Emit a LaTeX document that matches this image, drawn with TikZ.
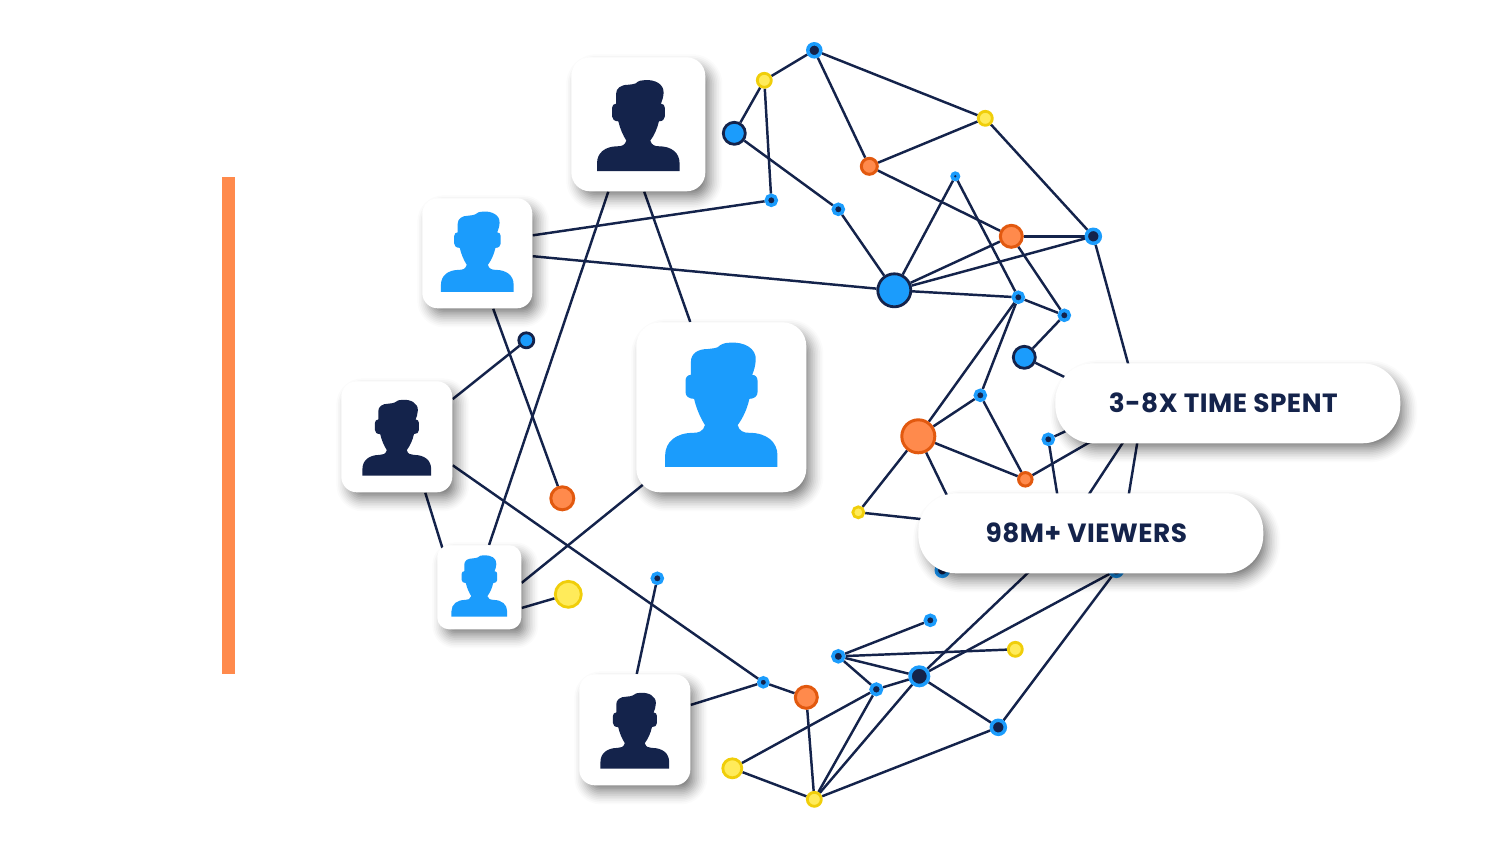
\documentclass[tikz,border=0pt]{standalone}
\usepackage{fontspec}
\setmainfont{Poppins}
\newfontfamily\pillfont{Poppins}[LetterSpace=2]
\usepackage{xcolor}
\usetikzlibrary{calc, positioning}
\definecolor{navy}{HTML}{14234B}
\definecolor{sky}{HTML}{1B9CFC}
\definecolor{tangerine}{HTML}{FF8A4C}
\definecolor{rust}{HTML}{E2590F}
\definecolor{lemon}{HTML}{FFEB5A}
\definecolor{gold}{HTML}{F0CE0A}
\pgfdeclarelayer{edges}
\pgfsetlayers{edges,main}

% soft shadow: cx, cy, w, h, radius
\newcommand{\softshadow}[5]{
  \foreach \i in {0,...,11}{
    \pgfmathsetmacro\grow{11-1.7*\i}
    \pgfmathsetmacro\rr{max(#5+\grow,2)*0.02}
    \pgfmathsetmacro\shade{0.016+0.006*\i}
    \fill[black, opacity=\shade, rounded corners=\rr cm]
      (#1+6-#3/2-\grow, #2+8-#4/2-\grow) rectangle (#1+6+#3/2+\grow, #2+8+#4/2+\grow);
  }
}
% person card: name, cx, cy, size, icon width, colour
\newcommand{\personcard}[6]{
  \pgfmathsetmacro\cardr{0.14*#4}
  \softshadow{#2}{#3}{#4}{#4}{\cardr}
  \node[card, minimum size=#4*0.02cm, rounded corners=\cardr*0.02cm] (#1) at (#2,#3) {};
  \pgfmathsetmacro\iconu{#5/249*0.02}
  \begin{scope}[shift={(#2,#3+0.35*#4)}, x=\iconu cm, y=\iconu cm]
    \fill[#6] (-124,0) -- (-124,25) .. controls (-124,55) and (-100,75) .. (-62,75)
      .. controls (-50,75) and (-40,78) .. (-36,92)
      .. controls (-46,108) and (-55,128) .. (-60,150)
      .. controls (-72,150) and (-79,156) .. (-79,165)
      -- (-79,190) .. controls (-79,198) and (-74,203) .. (-67,203)
      -- (-67,232) .. controls (-67,250) and (-52,260) .. (-30,260)
      .. controls (-20,261) and (-12,262) .. (-8,264)
      .. controls (0,272) and (10,274) .. (20,274)
      .. controls (50,276) and (78,262) .. (76,235)
      .. controls (75,222) and (72,212) .. (68,203)
      .. controls (75,203) and (80,198) .. (80,190)
      -- (80,165) .. controls (80,156) and (73,150) .. (62,150)
      .. controls (57,128) and (48,108) .. (36,92)
      .. controls (40,78) and (50,75) .. (62,75)
      .. controls (100,75) and (124,55) .. (124,25) -- (124,0) -- cycle;
  \end{scope}
}

\begin{document}
\begin{tikzpicture}[
    x=0.02cm, y=-0.02cm,
    card/.style={fill=white, inner sep=0pt},
    pill/.style={fill=white, inner sep=0pt, minimum width=6.9cm, minimum height=1.6cm,
                 rounded corners=0.76cm, text=navy, font=\pillfont\fontsize{15}{17}\selectfont\bfseries},
    ringdot/.style={circle, inner sep=0pt, fill=navy, draw=sky, line width=2pt},
    skydot/.style={circle, inner sep=0pt, fill=sky, draw=navy, line width=1.6pt},
    orangedot/.style={circle, inner sep=0pt, fill=tangerine, draw=rust, line width=1.7pt},
    yellowdot/.style={circle, inner sep=0pt, fill=lemon, draw=gold, line width=1.6pt},
    link/.style={draw=navy, line width=1.4pt}
  ]
    \useasboundingbox (-0.3,-0.3) rectangle (1499.7,849.7);
    \node[fill=tangerine, inner sep=0pt, minimum width=0.26cm, minimum height=9.94cm] (bar) at (228.2,425.2) {};

    % dots
    \foreach \nm/\px/\py/\sz in {a1/814/50/13, a6/771/200/10, a7/838/209/10, a8/955/176/6.3,
        a10/1093/236/14, a12/1018/297/10, a13/1064/315/10, a15/980/395/10, a17/1048/439/10,
        a23/657/578/10, a24/763/682/9, a28/838/656/11, a29/930/620/10, a31/876/689/10.5,
        a32/919/676/18.5, a33/998/727/14, a34/942/570/12, a35/1116/570/12}
      \node[ringdot, minimum size=\sz*0.02cm] (\nm) at (\px,\py) {};
    \foreach \nm/\px/\py/\sz in {a3/734/133/22, a11/894/290/33, a14/1024/357/22, a20/526/340/15}
      \node[skydot, minimum size=\sz*0.02cm] (\nm) at (\px,\py) {};
    \foreach \nm/\px/\py/\sz in {a5/869/166/16, a9/1011/236/22, a16/918/436/33, a18/1025/479/13.5,
        a21/562/498/23, a25/806/697/22}
      \node[orangedot, minimum size=\sz*0.02cm] (\nm) at (\px,\py) {};
    \foreach \nm/\px/\py/\sz in {a2/764/80/14, a4/985/118/14, a19/858/512/11, a22/568/594/26,
        a26/732/768/19, a27/814/799/14, a30/1015/649/14}
      \node[yellowdot, minimum size=\sz*0.02cm] (\nm) at (\px,\py) {};

    % cards
    \personcard{cardtop}{638}{124}{134}{83}{navy}
    \personcard{cardleft}{477}{253}{110}{73}{sky}
    \personcard{cardbig}{721}{407}{170}{113}{sky}
    \personcard{cardmid}{396.5}{436.5}{111}{69}{navy}
    \personcard{cardsmall}{479}{587}{84}{56}{sky}
    \personcard{cardlow}{634.5}{729.5}{111}{69}{navy}

    % pills
    \softshadow{1090.5}{533}{345}{80}{38}
    \node[pill] (viewers) at (1090.5,533) {98M+ VIEWERS\hspace{0.18cm}\mbox{}};
    \softshadow{1227.5}{403}{345}{80}{38}
    \node[pill] (spent) at (1227.5,403) {3-8X TIME SPENT\hspace{0.18cm}\mbox{}};

    % ends hidden under the pills and cards
    \coordinate (h1) at (1139,430);
    \coordinate (h2) at (1085,387);
    \coordinate (h3) at (1110,430);
    \coordinate (h4) at (1065,431);
    \coordinate (h5) at (1062,525);
    \coordinate (h6) at (1130,431);
    \coordinate (h7) at (1063,533);
    \coordinate (h8) at (1109,495);
    \coordinate (h9) at (965,533);
    \coordinate (h10) at (960,523);
    \coordinate (h11) at (700,438);
    \coordinate (h12) at (449,570);
    \coordinate (h13) at (1146,430);

    \begin{pgfonlayer}{edges}
      \foreach \from/\to in {a3/a2, a2/a1, a2/a6, a1/a4, a1/a5, a5/a4, a4/a10, a5/a9, a3/a7,
          a7/a11, a11/a8, a8/a12, a9/a10, a9/a11, a10/a11, a9/a13, a11/a12, a12/a13, a13/a14,
          a10/h13, h1/a35, a14/h2, a12/a16, a12/a15, a15/a16, a15/a18, a16/a18, a16/a19, a16/h9,
          a19/h10, a18/h3, a17/h4, a17/h5, h6/h7, a32/h8, a24/a25, a25/a27, a26/a27, a26/a31,
          a31/a32, a31/a28, a31/a27, a32/a27, a32/a28, a28/a29, a28/a30, a32/a33, a33/a27,
          a33/a35, a32/a35, cardleft.18/a6, cardleft.-3/a11, cardtop.-85.7/cardbig.110,
          cardtop.-114.1/cardsmall.77.9, cardleft.-74/a21, cardmid.34/a20,
          cardmid.-63.6/h12, cardmid.-27.2/a24, cardsmall.6.8/h11,
          cardsmall.-26.6/a22, cardlow.88.5/a23, cardlow.24.7/a24}
        \draw[link] (\from) -- (\to);
    \end{pgfonlayer}
  \end{tikzpicture}
\end{document}
